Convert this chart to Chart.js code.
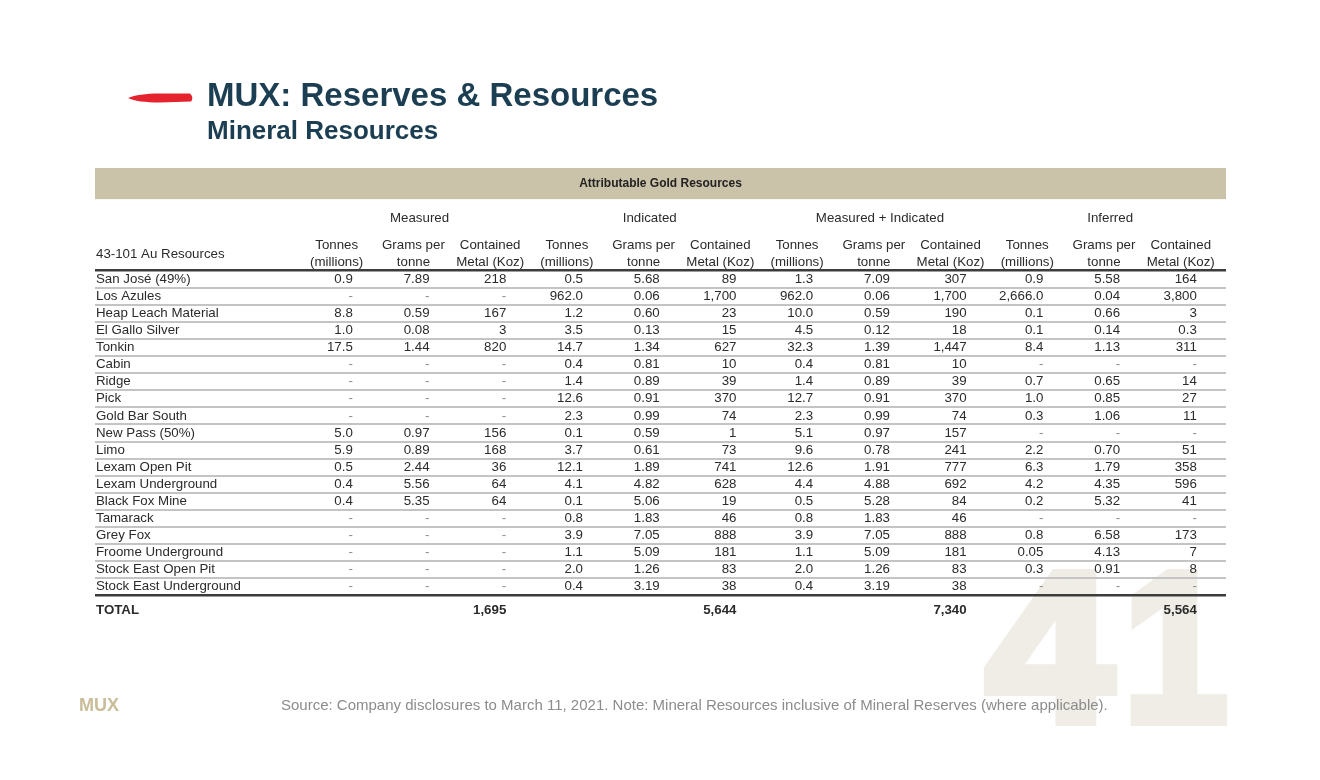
<!DOCTYPE html>
<html>
<head>
<meta charset="utf-8">
<title>MUX: Reserves &amp; Resources</title>
<script src="https://cdn.jsdelivr.net/npm/chart.js@4.4.1/dist/chart.umd.min.js"></script>
<style>
    html, body { margin: 0; padding: 0; background: #fff; }
</style>
</head>
<body>
<canvas id="myChart" width="1320" height="780"></canvas>
<script>
// table content
const sites = ['San José (49%)', 'Los Azules', 'Heap Leach Material', 'El Gallo Silver', 'Tonkin', 'Cabin', 'Ridge', 'Pick',
    'Gold Bar South', 'New Pass (50%)', 'Limo', 'Lexam Open Pit', 'Lexam Underground', 'Black Fox Mine', 'Tamarack',
    'Grey Fox', 'Froome Underground', 'Stock East Open Pit', 'Stock East Underground'];

const measuredTonnes = [0.9, null, 8.8, 1.0, 17.5, null, null, null, null, 5.0, 5.9, 0.5, 0.4, 0.4, null, null, null, null, null];
const measuredGrade = [7.89, null, 0.59, 0.08, 1.44, null, null, null, null, 0.97, 0.89, 2.44, 5.56, 5.35, null, null, null, null, null];
const measuredMetal = [218, null, 167, 3, 820, null, null, null, null, 156, 168, 36, 64, 64, null, null, null, null, null];

const indicatedTonnes = [0.5, 962.0, 1.2, 3.5, 14.7, 0.4, 1.4, 12.6, 2.3, 0.1, 3.7, 12.1, 4.1, 0.1, 0.8, 3.9, 1.1, 2.0, 0.4];
const indicatedGrade = [5.68, 0.06, 0.60, 0.13, 1.34, 0.81, 0.89, 0.91, 0.99, 0.59, 0.61, 1.89, 4.82, 5.06, 1.83, 7.05, 5.09, 1.26, 3.19];
const indicatedMetal = [89, 1700, 23, 15, 627, 10, 39, 370, 74, 1, 73, 741, 628, 19, 46, 888, 181, 83, 38];

const mAndITonnes = [1.3, 962.0, 10.0, 4.5, 32.3, 0.4, 1.4, 12.7, 2.3, 5.1, 9.6, 12.6, 4.4, 0.5, 0.8, 3.9, 1.1, 2.0, 0.4];
const mAndIGrade = [7.09, 0.06, 0.59, 0.12, 1.39, 0.81, 0.89, 0.91, 0.99, 0.97, 0.78, 1.91, 4.88, 5.28, 1.83, 7.05, 5.09, 1.26, 3.19];
const mAndIMetal = [307, 1700, 190, 18, 1447, 10, 39, 370, 74, 157, 241, 777, 692, 84, 46, 888, 181, 83, 38];

const inferredTonnes = [0.9, 2666.0, 0.1, 0.1, 8.4, null, 0.7, 1.0, 0.3, null, 2.2, 6.3, 4.2, 0.2, null, 0.8, 0.05, 0.3, null];
const inferredGrade = [5.58, 0.04, 0.66, 0.14, 1.13, null, 0.65, 0.85, 1.06, null, 0.70, 1.79, 4.35, 5.32, null, 6.58, 4.13, 0.91, null];
const inferredMetal = [164, 3800, 3, 0.3, 311, null, 14, 27, 11, null, 51, 358, 596, 41, null, 173, 7, 8, null];

const groupLabels = ['Measured', 'Indicated', 'Measured + Indicated', 'Inferred'];
const colHeads = [['Tonnes', '(millions)'], ['Grams per', 'tonne'], ['Contained', 'Metal (Koz)']];
const totals = [1695, 5644, 7340, 5564];

const columns = [measuredTonnes, measuredGrade, measuredMetal, indicatedTonnes, indicatedGrade, indicatedMetal,
    mAndITonnes, mAndIGrade, mAndIMetal, inferredTonnes, inferredGrade, inferredMetal];

const FONT = '"Liberation Sans", Arial, sans-serif';

function fmt(v, kind) {
    if (v === null) return '-';
    const d = kind == 0 ? [1, 2] : kind == 1 ? [2, 2] : [0, 1];
    return v.toLocaleString('en-US', { minimumFractionDigits: d[0], maximumFractionDigits: d[1] });
}

// heavy page-number glyph: fill + stroke, squeezed or stretched sideways
function bigDigit(c, txt, x, y, sx) {
    c.save();
    c.translate(x, y);
    c.scale(sx, 1);
    c.fillStyle = '#efede6';
    c.strokeStyle = '#efede6';
    c.lineWidth = 10;
    c.font = 'bold 214px ' + FONT;
    c.textAlign = 'right';
    c.textBaseline = 'alphabetic';
    c.fillText(txt, 0, 0);
    c.strokeText(txt, 0, 0);
    c.restore();
}

const tablePlugin = {
    id: 'table',
    beforeDraw(chart) {
        const c = chart.ctx;
        c.save();
        c.fillStyle = '#fff';
        c.fillRect(0, 0, chart.width, chart.height);
        bigDigit(c, '4', 1113, 721, 1.07);
        bigDigit(c, '1', 1228, 721, 0.88);
        // band
        const y = chart.scales.y;
        c.fillStyle = '#cbc3a9';
        c.fillRect(chart.chartArea.left, y.getPixelForValue(-6.5), chart.chartArea.right - chart.chartArea.left,
            y.getPixelForValue(-4.68) - y.getPixelForValue(-6.5));
        c.restore();
    },
    afterDraw(chart) {
        const c = chart.ctx;
        const x = chart.scales.x, y = chart.scales.y;
        const left = chart.chartArea.left + 1;
        c.save();

        // red brush mark
        c.fillStyle = '#e5232f';
        c.beginPath();
        c.moveTo(128, 98);
        c.bezierCurveTo(135, 95, 145, 93.5, 160, 93.5);
        c.lineTo(190, 93.5);
        c.quadraticCurveTo(194, 97.5, 191, 101.5);
        c.lineTo(160, 102.5);
        c.bezierCurveTo(145, 102.5, 134, 101, 128, 98);
        c.closePath();
        c.fill();

        c.fillStyle = '#1c3e52';
        c.textAlign = 'left';
        c.textBaseline = 'alphabetic';
        c.font = 'bold 33px ' + FONT;
        c.fillText('MUX: Reserves & Resources', 207, 106);
        c.font = 'bold 26px ' + FONT;
        c.fillText('Mineral Resources', 207, 139);

        // band title
        c.fillStyle = '#222';
        c.textAlign = 'center';
        c.textBaseline = 'middle';
        c.font = 'bold 12px ' + FONT;
        c.fillText('Attributable Gold Resources', (chart.chartArea.left + chart.chartArea.right) / 2, y.getPixelForValue(-5.6));

        // headers
        c.fillStyle = '#2b2b2b';
        c.font = '13.3px ' + FONT;
        groupLabels.forEach((g, i) => {
            c.fillText(g, x.getPixelForValue(3 * i + 2 - 0.13), y.getPixelForValue(-3.57));
        });
        for (let k = 1; k <= 12; k++) {
            const h = colHeads[(k - 1) % 3];
            c.fillText(h[0], x.getPixelForValue(k - 0.21), y.getPixelForValue(-1.95));
            c.fillText(h[1], x.getPixelForValue(k - 0.21), y.getPixelForValue(-1.0));
        }
        c.textAlign = 'left';
        c.fillText('43-101 Au Resources', left, y.getPixelForValue(-1.47));

        // rows
        sites.forEach((s, i) => {
            const py = y.getPixelForValue(i);
            c.textAlign = 'left';
            c.fillStyle = '#2b2b2b';
            c.fillText(s, left, py);
            c.textAlign = 'right';
            columns.forEach((col, k) => {
                const v = col[i];
                c.fillStyle = v === null ? '#8c8c8c' : '#2b2b2b';
                c.fillText(fmt(v, k % 3), x.getPixelForValue(k + 1), py);
            });
        });

        // totals
        c.font = 'bold 13.3px ' + FONT;
        c.fillStyle = '#2b2b2b';
        c.textAlign = 'left';
        const ty = y.getPixelForValue(19.35);
        c.fillText('TOTAL', left, ty);
        c.textAlign = 'right';
        totals.forEach((t, g) => c.fillText(fmt(t, 2), x.getPixelForValue(3 * g + 3), ty));

        // footer
        c.textAlign = 'left';
        c.fillStyle = '#c9bd98';
        c.font = 'bold 18px ' + FONT;
        c.fillText('MUX', 79, 706);
        c.fillStyle = '#8c8c8c';
        c.font = '15px ' + FONT;
        c.fillText('Source: Company disclosures to March 11, 2021. Note: Mineral Resources inclusive of Mineral Reserves (where applicable).', 281, 706);
        c.restore();
    }
};

// row separators go on the y grid
const rowLines = [];
for (let i = 0; i <= sites.length; i++) rowLines.push(i - 0.5);

const ctx = document.getElementById('myChart').getContext('2d');
const myChart = new Chart(ctx, {
    type: 'scatter',
    data: { datasets: [] },
    options: {
        responsive: false,
        animation: false,
        devicePixelRatio: 1,
        layout: { padding: { left: 95, right: 94, top: 168, bottom: 159 } },
        plugins: { legend: { display: false }, tooltip: { enabled: false } },
        scales: {
            x: { type: 'linear', display: false, min: -2.36, max: 12.38 },
            y: {
                type: 'linear',
                reverse: true,
                min: -6.5,
                max: 20,
                afterBuildTicks: s => { s.ticks = rowLines.map(v => ({ value: v })); },
                ticks: { display: false },
                border: { display: false },
                grid: {
                    drawTicks: false,
                    color: c => (c.index == 0 || c.index == rowLines.length - 1) ? '#3c3c3c' : '#c4c4c4',
                    lineWidth: c => (c.index == 0 || c.index == rowLines.length - 1) ? 2.5 : 2
                }
            }
        }
    },
    plugins: [tablePlugin]
});
</script>
</body>
</html>
